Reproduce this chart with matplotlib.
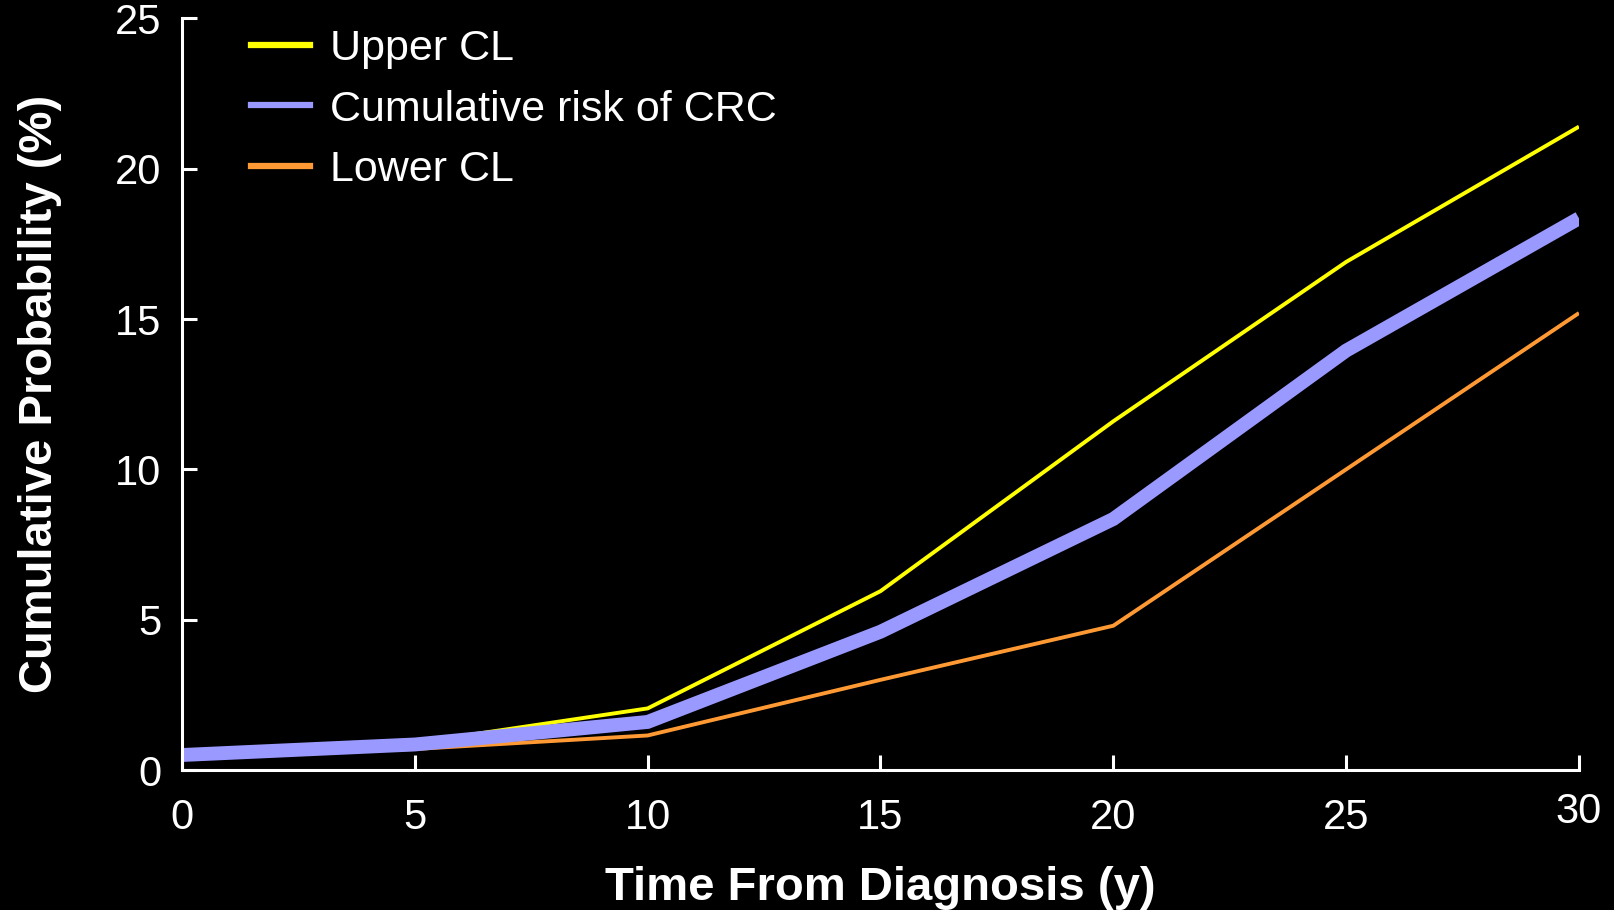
#!/usr/bin/env python3
import matplotlib
matplotlib.use("Agg")
import matplotlib.pyplot as plt
from matplotlib.lines import Line2D
from matplotlib.transforms import ScaledTranslation
from matplotlib import font_manager


years = [0, 5, 10, 15, 20, 25, 30]
cum_risk = [0.5, 0.85, 1.6, 4.6, 8.35, 13.95, 18.35]
upper_cl = [0.5, 0.9, 2.05, 5.95, 11.6, 16.9, 21.4]
lower_cl = [0.45, 0.7, 1.15, 3.0, 4.8, 10.0, 15.2]

x_ticks = [0, 5, 10, 15, 20, 25, 30]
y_ticks = [0, 5, 10, 15, 20, 25]

YELLOW = "#FFFF00"
BLUE = "#9999FF"
ORANGE = "#FF9933"


def pick_font():
    names = {f.name for f in font_manager.fontManager.ttflist}
    for name in ["Liberation Sans Narrow", "Liberation Sans", "DejaVu Sans"]:
        if name in names:
            return name
    return "DejaVu Sans"


def main():
    font = pick_font()
    plt.rcParams.update(
        {
            "font.family": [font, "DejaVu Sans"],
            "figure.facecolor": "black",
            "axes.facecolor": "black",
            "text.color": "white",
            "axes.labelcolor": "white",
            "xtick.color": "white",
            "ytick.color": "white",
        }
    )

    fig = plt.figure(figsize=(16.15, 9.1), dpi=100)
    ax = fig.add_axes([0.1127, 0.1538, 0.865, 0.826])

    ax.plot(years, upper_cl, color=YELLOW, lw=2.8, solid_capstyle="butt", solid_joinstyle="miter")
    ax.plot(years, lower_cl, color=ORANGE, lw=2.8, solid_capstyle="butt", solid_joinstyle="miter")
    ax.plot(years, cum_risk, color=BLUE, lw=10, solid_capstyle="butt", solid_joinstyle="miter")

    ax.set_xlim(0, 30)
    ax.set_ylim(0, 25)
    ax.set_xticks(x_ticks)
    ax.set_yticks(y_ticks)
    ax.set_xticklabels([str(v) for v in x_ticks])
    ax.set_yticklabels([str(v) for v in y_ticks])

    for side in ["top", "right"]:
        ax.spines[side].set_visible(False)
    for side in ["left", "bottom"]:
        ax.spines[side].set_color("white")
        ax.spines[side].set_linewidth(2.2)

    ax.tick_params(axis="both", direction="in", length=11, width=2.2, labelsize=30)
    ax.tick_params(axis="x", pad=20)
    ax.tick_params(axis="y", pad=15)

    # the 30 label sits a little higher in the original
    last = ax.get_xticklabels()[-1]
    last.set_transform(last.get_transform() + ScaledTranslation(0, 4 / 72, fig.dpi_scale_trans))

    ax.set_xlabel("Time From Diagnosis (y)", fontsize=34, fontweight="bold", labelpad=20)
    ax.set_ylabel("Cumulative Probability (%)", fontsize=34, fontweight="bold", labelpad=38)

    handles = [
        Line2D([], [], color=YELLOW, lw=4.5),
        Line2D([], [], color=BLUE, lw=4.5),
        Line2D([], [], color=ORANGE, lw=4.5),
    ]
    labels = ["Upper CL", "Cumulative risk of CRC", "Lower CL"]
    ax.legend(
        handles,
        labels,
        loc="upper left",
        bbox_to_anchor=(0.022, 1.037),
        frameon=False,
        fontsize=31,
        handlelength=1.37,
        handletextpad=0.45,
        labelspacing=0.47,
    )

    fig.savefig("out.png", dpi=100, facecolor="black")
    plt.close(fig)


if __name__ == "__main__":
    main()
